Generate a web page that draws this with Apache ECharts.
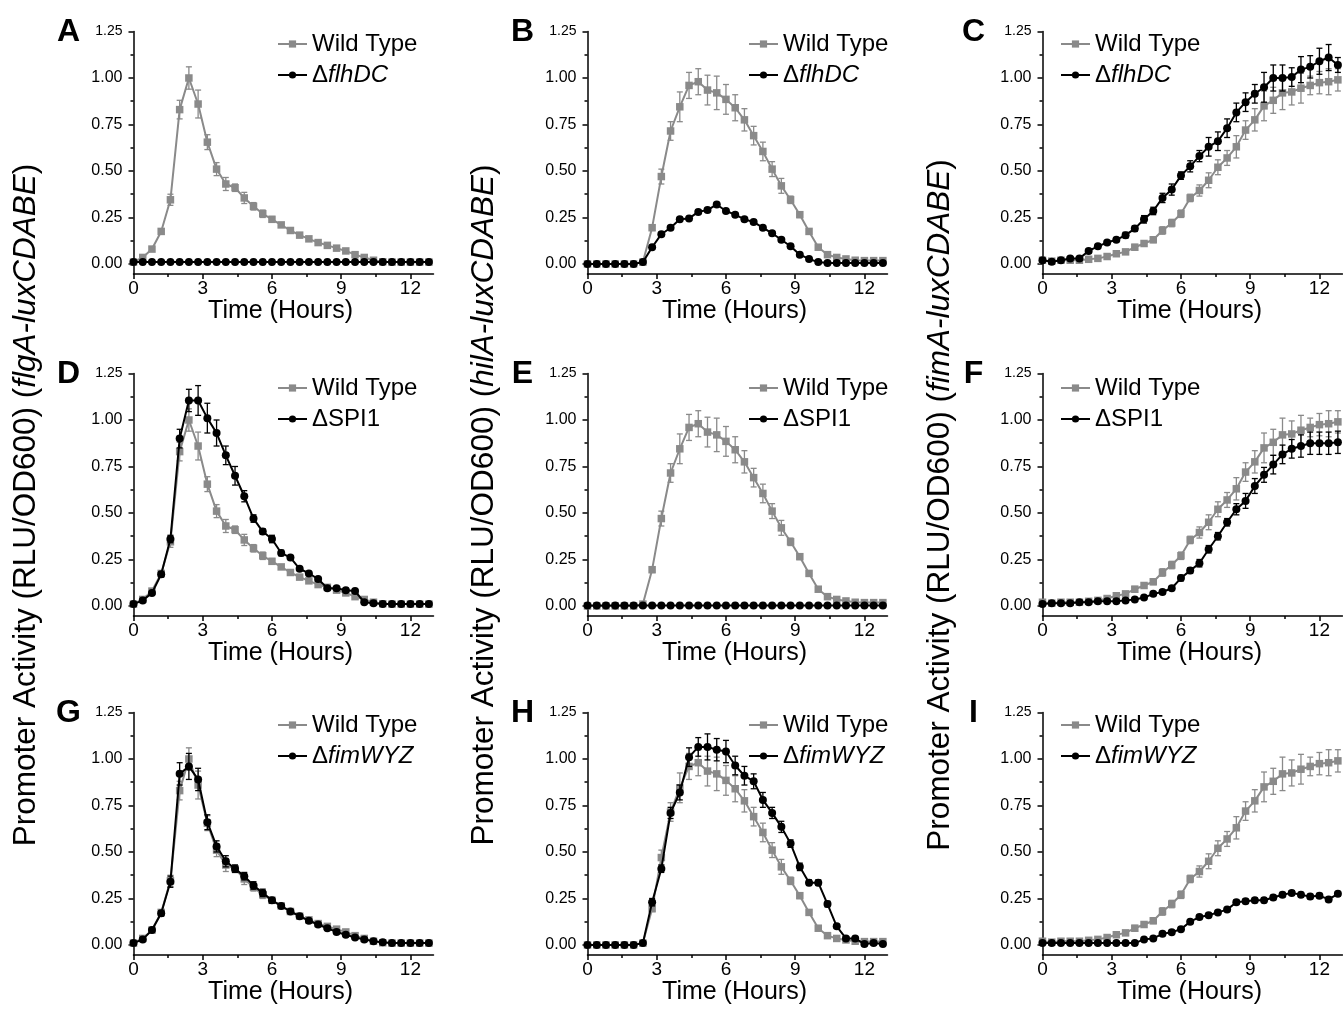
<!DOCTYPE html>
<html><head><meta charset="utf-8">
<script src="https://cdn.jsdelivr.net/npm/echarts@6/dist/echarts.min.js"></script>
<style>html,body{margin:0;padding:0;background:#fff}#c{width:1343px;height:1009px}</style>
</head><body><div id="c"></div>
<script>
// ---------- DATA ----------
const hours = [0,0.4,0.8,1.2,1.6,2.0,2.4,2.8,3.2,3.6,4.0,4.4,4.8,5.2,5.6,6.0,6.4,6.8,7.2,7.6,8.0,8.4,8.8,9.2,9.6,10.0,10.4,10.8,11.2,11.6,12.0,12.4,12.8];
const xTicks = [0,3,6,9,12];
const xMinorTicks = [1.5,4.5,7.5,10.5];
const yTicks = [0,0.25,0.5,0.75,1.0,1.25];
const yMinorTicks = [0.125,0.375,0.625,0.875,1.125];

// flgA-luxCDABE
const wtFlgA    = [0.01,0.035,0.08,0.175,0.345,0.83,1.0,0.86,0.655,0.51,0.43,0.41,0.355,0.31,0.27,0.24,0.21,0.18,0.155,0.135,0.115,0.1,0.085,0.07,0.05,0.035,0.02,0.012,0.01,0.01,0.01,0.01,0.01];
const wtFlgAErr = [0.01,0.01,0.01,0.015,0.03,0.05,0.06,0.075,0.04,0.035,0.035,0.02,0.03,0.02,0.02,0.015,0.01,0.01,0.01,0.01,0.01,0.01,0.01,0.01,0.01,0.01,0.01,0.01,0.01,0.01,0.01,0.01,0.01];
const flhDCFlgA    = [0.01,0.01,0.01,0.01,0.01,0.01,0.01,0.01,0.01,0.01,0.01,0.01,0.01,0.01,0.01,0.01,0.01,0.01,0.01,0.01,0.01,0.01,0.01,0.01,0.01,0.01,0.01,0.01,0.01,0.01,0.01,0.01,0.01];
const flhDCFlgAErr = [0.005,0.005,0.005,0.005,0.005,0.005,0.005,0.005,0.005,0.005,0.005,0.005,0.005,0.005,0.005,0.005,0.005,0.005,0.005,0.005,0.005,0.005,0.005,0.005,0.005,0.005,0.005,0.005,0.005,0.005,0.005,0.005,0.005];
const spi1FlgA    = [0.01,0.03,0.07,0.17,0.36,0.9,1.105,1.105,1.01,0.93,0.81,0.70,0.59,0.47,0.40,0.36,0.285,0.26,0.2,0.175,0.145,0.095,0.095,0.085,0.08,0.02,0.015,0.01,0.01,0.01,0.01,0.01,0.01];
const spi1FlgAErr = [0.01,0.01,0.01,0.015,0.02,0.05,0.06,0.08,0.08,0.07,0.05,0.05,0.03,0.02,0.015,0.02,0.015,0.01,0.01,0.01,0.01,0.01,0.01,0.01,0.01,0.01,0.01,0.01,0.01,0.01,0.01,0.01,0.01];
const fimWYZFlgA    = [0.01,0.03,0.08,0.17,0.34,0.92,0.96,0.89,0.66,0.53,0.45,0.41,0.37,0.32,0.28,0.24,0.21,0.18,0.155,0.13,0.11,0.09,0.07,0.055,0.04,0.03,0.02,0.015,0.01,0.01,0.01,0.01,0.01];
const fimWYZFlgAErr = [0.01,0.01,0.01,0.015,0.03,0.06,0.07,0.06,0.04,0.03,0.03,0.02,0.02,0.02,0.02,0.015,0.01,0.01,0.01,0.01,0.01,0.01,0.01,0.01,0.01,0.01,0.01,0.01,0.01,0.01,0.01,0.01,0.01];

// hilA-luxCDABE
const wtHilA    = [0,0,0,0,0,0,0.01,0.195,0.47,0.715,0.845,0.96,0.98,0.935,0.92,0.885,0.84,0.775,0.69,0.605,0.51,0.42,0.345,0.265,0.175,0.09,0.05,0.035,0.027,0.02,0.018,0.018,0.018];
const wtHilAErr = [0.005,0.005,0.005,0.005,0.005,0.005,0.01,0.015,0.04,0.05,0.08,0.07,0.07,0.08,0.09,0.08,0.07,0.06,0.05,0.05,0.04,0.04,0.02,0.015,0.01,0.01,0.01,0.01,0.01,0.01,0.01,0.01,0.01];
const flhDCHilA    = [0,0,0,0,0,0,0.01,0.09,0.16,0.195,0.24,0.245,0.28,0.29,0.32,0.285,0.265,0.24,0.225,0.195,0.165,0.13,0.095,0.05,0.027,0.01,0.005,0.005,0.005,0.005,0.005,0.005,0.005];
const flhDCHilAErr = [0.005,0.005,0.005,0.005,0.005,0.005,0.005,0.01,0.01,0.01,0.01,0.01,0.01,0.01,0.01,0.01,0.01,0.01,0.01,0.01,0.01,0.01,0.01,0.01,0.005,0.005,0.005,0.005,0.005,0.005,0.005,0.005,0.005];
const spi1HilA    = [0.003,0.003,0.003,0.003,0.003,0.003,0.003,0.003,0.003,0.003,0.003,0.003,0.003,0.003,0.003,0.003,0.003,0.003,0.003,0.003,0.003,0.003,0.003,0.003,0.003,0.003,0.003,0.003,0.003,0.003,0.003,0.003,0.003];
const spi1HilAErr = [0.004,0.004,0.004,0.004,0.004,0.004,0.004,0.004,0.004,0.004,0.004,0.004,0.004,0.004,0.004,0.004,0.004,0.004,0.004,0.004,0.004,0.004,0.004,0.004,0.004,0.004,0.004,0.004,0.004,0.004,0.004,0.004,0.004];
const fimWYZHilA    = [0,0,0,0,0,0,0.01,0.23,0.41,0.71,0.82,1.01,1.065,1.065,1.05,1.04,0.965,0.91,0.88,0.78,0.71,0.635,0.545,0.42,0.335,0.335,0.22,0.1,0.035,0.035,0.005,0.01,0.005];
const fimWYZHilAErr = [0.005,0.005,0.005,0.005,0.005,0.005,0.01,0.02,0.02,0.03,0.04,0.05,0.05,0.07,0.06,0.06,0.05,0.05,0.04,0.04,0.03,0.03,0.02,0.02,0.015,0.015,0.015,0.01,0.01,0.01,0.01,0.01,0.01];

// fimA-luxCDABE
const wtFimA    = [0.02,0.015,0.02,0.02,0.02,0.025,0.03,0.04,0.055,0.065,0.09,0.11,0.13,0.18,0.22,0.27,0.355,0.395,0.45,0.52,0.57,0.63,0.72,0.775,0.85,0.88,0.92,0.925,0.945,0.96,0.975,0.98,0.99];
const wtFimAErr = [0.01,0.01,0.01,0.01,0.01,0.01,0.01,0.01,0.01,0.01,0.015,0.015,0.015,0.02,0.02,0.02,0.02,0.03,0.04,0.04,0.04,0.06,0.05,0.06,0.08,0.07,0.09,0.07,0.08,0.05,0.06,0.07,0.06];
const flhDCFimA    = [0.02,0.012,0.02,0.03,0.03,0.07,0.095,0.115,0.13,0.155,0.19,0.24,0.285,0.355,0.40,0.475,0.525,0.58,0.63,0.66,0.73,0.815,0.87,0.915,0.95,1.0,1.0,1.005,1.045,1.06,1.09,1.11,1.07];
const flhDCFimAErr = [0.01,0.01,0.01,0.01,0.01,0.01,0.01,0.01,0.01,0.015,0.015,0.02,0.02,0.025,0.03,0.02,0.03,0.03,0.05,0.05,0.05,0.05,0.05,0.05,0.08,0.07,0.07,0.05,0.07,0.06,0.07,0.07,0.04];
const spi1FimA    = [0.01,0.015,0.015,0.015,0.02,0.02,0.025,0.025,0.025,0.03,0.035,0.045,0.065,0.075,0.095,0.15,0.19,0.23,0.305,0.375,0.45,0.52,0.565,0.645,0.705,0.76,0.815,0.845,0.86,0.875,0.875,0.875,0.88];
const spi1FimAErr = [0.01,0.01,0.01,0.01,0.01,0.01,0.01,0.01,0.01,0.01,0.01,0.01,0.01,0.01,0.01,0.015,0.015,0.02,0.02,0.02,0.02,0.03,0.04,0.04,0.04,0.05,0.05,0.05,0.06,0.06,0.06,0.06,0.06];
const fimWYZFimA    = [0.01,0.01,0.01,0.01,0.01,0.01,0.01,0.01,0.01,0.01,0.01,0.03,0.035,0.06,0.068,0.085,0.125,0.15,0.16,0.175,0.19,0.23,0.235,0.24,0.24,0.255,0.27,0.28,0.27,0.26,0.265,0.245,0.275];
const fimWYZFimAErr = [0.008,0.008,0.008,0.008,0.008,0.008,0.008,0.008,0.008,0.008,0.008,0.008,0.008,0.01,0.01,0.01,0.01,0.01,0.01,0.01,0.01,0.012,0.012,0.012,0.012,0.012,0.012,0.012,0.012,0.012,0.012,0.012,0.012];

const panelLetters = ['A','B','C','D','E','F','G','H','I'];
const mutantNames = ['ΔflhDC','ΔflhDC','ΔflhDC','ΔSPI1','ΔSPI1','ΔSPI1','ΔfimWYZ','ΔfimWYZ','ΔfimWYZ'];
const promoters = ['flgA-luxCDABE','hilA-luxCDABE','fimA-luxCDABE'];

// ---------- LAYOUT ----------
const FONT = "'Liberation Sans', Arial, Helvetica, sans-serif";
const GRAY = '#8a8a8a', BLACK = '#000000';
const colLeft = [133.5, 587.5, 1042.5];
const rowTop = [31.5, 373.5, 712.5];
const GW = 300, GH = 242.5;
const Y_MIN = -0.054, Y_MAX = 1.25, X_MIN = 0, X_MAX = 13;
const legendLeft = [277, 748, 1060];
const legendTop = [32, 376, 713];

const panelData = [
  [wtFlgA, wtFlgAErr, flhDCFlgA, flhDCFlgAErr],
  [wtHilA, wtHilAErr, flhDCHilA, flhDCHilAErr],
  [wtFimA, wtFimAErr, flhDCFimA, flhDCFimAErr],
  [wtFlgA, wtFlgAErr, spi1FlgA, spi1FlgAErr],
  [wtHilA, wtHilAErr, spi1HilA, spi1HilAErr],
  [wtFimA, wtFimAErr, spi1FimA, spi1FimAErr],
  [wtFlgA, wtFlgAErr, fimWYZFlgA, fimWYZFlgAErr],
  [wtHilA, wtHilAErr, fimWYZHilA, fimWYZHilAErr],
  [wtFimA, wtFimAErr, fimWYZFimA, fimWYZFimAErr]
];

const grid = [], xAxis = [], yAxis = [], series = [], legend = [], graphic = [];

function errRender(color) {
  return function (params, api) {
    const x = api.value(0), lo = api.value(1), hi = api.value(2);
    const pTop = api.coord([x, hi]), pBot = api.coord([x, lo]);
    const w = 3;
    const st = { stroke: color, lineWidth: 1.3 };
    return { type: 'group', children: [
      { type: 'line', shape: { x1: pTop[0], y1: pTop[1], x2: pBot[0], y2: pBot[1] }, style: st },
      { type: 'line', shape: { x1: pTop[0]-w, y1: pTop[1], x2: pTop[0]+w, y2: pTop[1] }, style: st },
      { type: 'line', shape: { x1: pBot[0]-w, y1: pBot[1], x2: pBot[0]+w, y2: pBot[1] }, style: st }
    ]};
  };
}

const axisLineStyle = { color: '#000', width: 1.5 };

for (let p = 0; p < 9; p++) {
  const r = Math.floor(p / 3), c = p % 3;
  grid.push({ left: colLeft[c], top: rowTop[r], width: GW, height: GH, outerBoundsMode: 'none' });
  xAxis.push({
    gridIndex: p, type: 'value', min: X_MIN, max: X_MAX, position: 'bottom',
    axisLine: { onZero: false, lineStyle: axisLineStyle },
    axisTick: { customValues: xTicks, length: 5, lineStyle: axisLineStyle },
    axisLabel: { customValues: xTicks, fontSize: 19, color: '#000', margin: 5, fontFamily: FONT },
    splitLine: { show: false },
    name: 'Time (Hours)', nameLocation: 'middle', nameGap: 25, nameMoveOverlap: false,
    nameTextStyle: { fontSize: 25, color: '#000', fontFamily: FONT, padding: [0, 6, 0, 0] }
  });
  xAxis.push({
    gridIndex: p, type: 'value', min: X_MIN, max: X_MAX, position: 'top', offset: -GH,
    axisLine: { show: false, onZero: false },
    axisTick: { customValues: xMinorTicks, inside: true, length: 3, lineStyle: axisLineStyle },
    axisLabel: { show: false }, splitLine: { show: false }
  });
  yAxis.push({
    gridIndex: p, type: 'value', min: Y_MIN, max: Y_MAX, position: 'left',
    axisLine: { onZero: false, lineStyle: axisLineStyle },
    axisTick: { customValues: yTicks, length: 5, lineStyle: axisLineStyle },
    axisLabel: {
      customValues: yTicks, fontSize: 16, color: '#000', margin: 11, fontFamily: FONT,
      formatter: v => (Math.abs(v - 1.25) < 1e-6 ? '{s|1.25}' : v.toFixed(2)),
      rich: { s: { fontSize: 14, color: '#000', fontFamily: FONT } }
    },
    splitLine: { show: false }
  });
  yAxis.push({
    gridIndex: p, type: 'value', min: Y_MIN, max: Y_MAX, position: 'right', offset: -GW,
    axisLine: { show: false, onZero: false },
    axisTick: { customValues: yMinorTicks, inside: true, length: 3, lineStyle: axisLineStyle },
    axisLabel: { show: false }, splitLine: { show: false }
  });

  const [wt, wtErr, mut, mutErr] = panelData[p];
  const xi = p * 2, yi = p * 2;
  series.push({
    name: 'err', type: 'custom', xAxisIndex: xi, yAxisIndex: yi, silent: true,
    renderItem: errRender(GRAY), z: 2,
    data: hours.map((t, i) => [t, wt[i] - wtErr[i], wt[i] + wtErr[i]])
  });
  series.push({
    name: 'Wild Type', type: 'line', xAxisIndex: xi, yAxisIndex: yi, z: 3,
    symbol: 'rect', symbolSize: 7.5, showSymbol: true,
    itemStyle: { color: GRAY }, lineStyle: { color: GRAY, width: 2 },
    data: hours.map((t, i) => [t, wt[i]])
  });
  series.push({
    name: 'err', type: 'custom', xAxisIndex: xi, yAxisIndex: yi, silent: true,
    renderItem: errRender(BLACK), z: 4,
    data: hours.map((t, i) => [t, mut[i] - mutErr[i], mut[i] + mutErr[i]])
  });
  series.push({
    name: mutantNames[p], type: 'line', xAxisIndex: xi, yAxisIndex: yi, z: 5,
    symbol: 'circle', symbolSize: 8, showSymbol: true,
    itemStyle: { color: BLACK }, lineStyle: { color: BLACK, width: 2 },
    data: hours.map((t, i) => [t, mut[i]])
  });

  legend.push({
    data: ['Wild Type', mutantNames[p]], orient: 'vertical',
    left: legendLeft[c], top: legendTop[r], itemWidth: 29, itemHeight: 9, itemGap: 7,
    padding: 0, selectedMode: false,
    formatter: name => {
      if (name === 'ΔflhDC') return '{n|Δ}{i|flhDC}';
      if (name === 'ΔfimWYZ') return '{n|Δ}{i|fimWYZ}';
      return '{n|' + name + '}';
    },
    textStyle: {
      fontSize: 24, color: '#000', fontFamily: FONT,
      rich: {
        n: { fontSize: 24, color: '#000', fontFamily: FONT },
        i: { fontSize: 24, color: '#000', fontFamily: FONT, fontStyle: 'italic' }
      }
    }
  });

  graphic.push({
    type: 'text', x: colLeft[c] - 65 + (c === 2 ? -4 : 0), y: rowTop[r] + 1,
    style: { text: panelLetters[p], fontSize: 32, fontWeight: 'bold', fill: '#000', fontFamily: FONT,
             align: 'center', verticalAlign: 'middle' }
  });
}

const yTitleX = [26, 484, 940];
for (let c = 0; c < 3; c++) {
  graphic.push({
    type: 'text', x: yTitleX[c], y: 505, rotation: Math.PI / 2,
    style: {
      text: '{n|Promoter Activity (RLU/OD600) (}{i|' + promoters[c] + '}{n|)}',
      align: 'center', verticalAlign: 'middle',
      rich: {
        n: { fontSize: 31.5, fill: '#000', fontFamily: FONT },
        i: { fontSize: 31.5, fill: '#000', fontFamily: FONT, fontStyle: 'italic' }
      }
    }
  });
}

const chart = echarts.init(document.getElementById('c'), null, { renderer: 'canvas' });
chart.setOption({
  animation: false,
  backgroundColor: '#fff',
  textStyle: { fontFamily: FONT },
  grid, xAxis, yAxis, series, legend, graphic
});
</script>
</body></html>
